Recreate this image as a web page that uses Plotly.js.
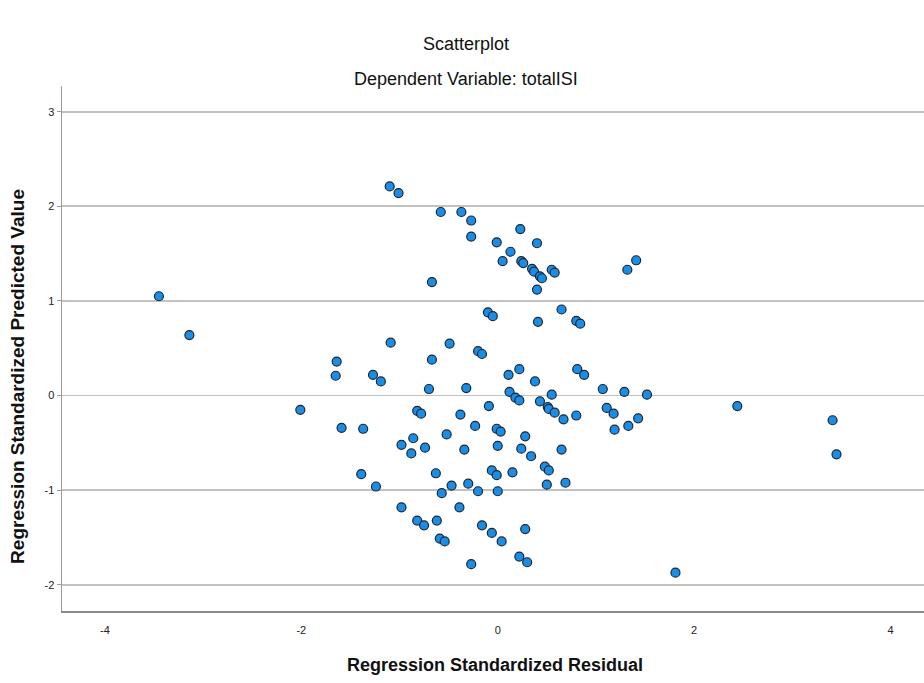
<!DOCTYPE html>
<html>
<head>
<meta charset="utf-8">
<script src="https://cdn.plot.ly/plotly-3.0.1.min.js"></script>
<style>
html,body{margin:0;padding:0;background:#fff;}
#chart{width:924px;height:683px;}
</style>
</head>
<body>
<div id="chart"></div>
<script>
// Regression Standardized Residual (x) and Regression Standardized Predicted Value (y)
const residual = [
 -3.45,-3.14,-2.01,-1.10,-1.01,-0.58,-0.37,-0.27,-0.27,0.23,
 -0.01,0.40,0.13,0.05,0.24,0.26,0.35,0.37,0.43,0.45,
 0.55,0.58,1.32,1.41,-0.67,0.40,-0.10,-0.05,0.41,0.65,
 0.80,0.84,-1.09,-0.49,-0.20,-0.16,-0.67,-1.64,-1.65,-1.27,
 -1.19,-0.70,-0.32,0.11,0.22,0.38,0.81,0.88,0.12,0.18,
 0.22,0.55,0.43,0.51,0.52,0.58,0.67,0.80,1.07,1.29,
 1.52,1.11,1.18,1.19,1.33,1.43,2.44,3.41,3.45,-0.82,
 -0.78,-0.09,-0.38,-0.23,-0.01,0.03,-1.59,-1.37,-0.52,-0.86,
 -0.98,-0.74,-0.88,-0.34,0.00,0.28,0.24,0.34,0.65,-1.39,
 -0.63,-0.06,-0.01,0.15,0.48,0.52,0.69,-1.24,-0.47,-0.57,
 -0.30,-0.20,0.00,0.50,-0.98,-0.39,-0.82,-0.75,-0.62,-0.59,
 -0.54,-0.16,-0.06,0.04,0.28,-0.27,0.22,0.30,1.81
];
const predicted = [
 1.05,0.64,-0.15,2.21,2.14,1.94,1.94,1.85,1.68,1.76,
 1.62,1.61,1.52,1.42,1.42,1.40,1.34,1.31,1.26,1.24,
 1.33,1.30,1.33,1.43,1.20,1.12,0.88,0.84,0.78,0.91,
 0.79,0.76,0.56,0.55,0.47,0.44,0.38,0.36,0.21,0.22,
 0.15,0.07,0.08,0.22,0.28,0.15,0.28,0.22,0.04,-0.02,
 -0.05,0.01,-0.06,-0.12,-0.14,-0.18,-0.25,-0.21,0.07,0.04,
 0.01,-0.13,-0.19,-0.36,-0.32,-0.24,-0.11,-0.26,-0.62,-0.16,
 -0.19,-0.11,-0.20,-0.32,-0.35,-0.38,-0.34,-0.35,-0.41,-0.45,
 -0.52,-0.55,-0.61,-0.57,-0.53,-0.43,-0.56,-0.64,-0.57,-0.83,
 -0.82,-0.79,-0.84,-0.81,-0.75,-0.79,-0.92,-0.96,-0.95,-1.03,
 -0.93,-1.01,-1.01,-0.94,-1.18,-1.18,-1.32,-1.37,-1.32,-1.51,
 -1.54,-1.37,-1.45,-1.54,-1.41,-1.78,-1.70,-1.76,-1.87
];
const xTickVals = [-4,-2,0,2,4];
const xTickText = ["-4","-2","0","2","4"];
const yTickVals = [-2,-1,0,1,2,3];
const yTickText = ["-2","-1","0","1","2","3"];

const FONT = "'Liberation Sans', Arial, sans-serif";

const trace = {
  x: residual,
  y: predicted,
  type: 'scatter',
  mode: 'markers',
  marker: {
    size: 9,
    color: '#1a8de6',
    line: {color: '#1c2733', width: 1.2}
  },
  hoverinfo: 'x+y'
};

const layout = {
  width: 924,
  height: 683,
  margin: {l: 62, r: 0, t: 86, b: 72},
  paper_bgcolor: '#ffffff',
  plot_bgcolor: '#ffffff',
  showlegend: false,
  font: {family: FONT, color: '#222', size: 11},
  xaxis: {
    range: [-4.437, 4.341],
    tickvals: xTickVals,
    ticktext: xTickText,
    showgrid: false,
    zeroline: false,
    showline: true,
    linecolor: '#8a8a8a',
    linewidth: 2,
    ticks: 'outside',
    ticklen: 8,
    tickcolor: 'rgba(0,0,0,0)',
    tickfont: {family: FONT, size: 11, color: '#222'}
  },
  yaxis: {
    range: [-2.275, 3.271],
    tickvals: yTickVals,
    ticktext: yTickText,
    showgrid: true,
    gridcolor: '#c2c2c2',
    gridwidth: 1.7,
    zeroline: false,
    showline: true,
    linecolor: '#9a9a9a',
    linewidth: 1.5,
    ticks: 'outside',
    ticklen: 4,
    tickcolor: '#9a9a9a',
    tickfont: {family: FONT, size: 11, color: '#222'}
  },
  annotations: [
    {text: 'Scatterplot', xref: 'paper', yref: 'paper', x: 0.469, y: 1.08,
     xanchor: 'center', yanchor: 'middle', showarrow: false,
     font: {family: FONT, size: 18, color: '#111'}},
    {text: 'Dependent Variable: totalISI', xref: 'paper', yref: 'paper', x: 0.469, y: 1.013,
     xanchor: 'center', yanchor: 'middle', showarrow: false,
     font: {family: FONT, size: 18, color: '#111'}},
    {text: '<b>Regression Standardized Residual</b>', xref: 'paper', yref: 'paper', x: 0.502, y: -0.103,
     xanchor: 'center', yanchor: 'middle', showarrow: false,
     font: {family: FONT, size: 18, color: '#111'}},
    {text: '<b>Regression Standardized Predicted Value</b>', xref: 'paper', yref: 'paper', x: -0.051, y: 0.446,
     xanchor: 'center', yanchor: 'middle', showarrow: false, textangle: -90,
     font: {family: FONT, size: 19, color: '#111'}}
  ]
};

Plotly.newPlot('chart', [trace], layout, {displayModeBar: false, staticPlot: true});
</script>
</body>
</html>
